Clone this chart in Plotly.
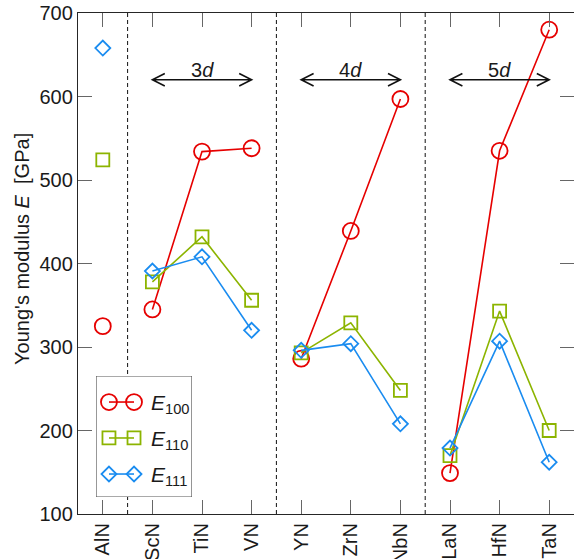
import plotly.graph_objects as go

materials = ["AlN", "ScN", "TiN", "VN", "YN", "ZrN", "NbN", "LaN", "HfN", "TaN"]
E100 = [325, 345, 534, 538, 286, 439, 597, 149, 535, 680]
E110 = [524, 378, 432, 356, 293, 329, 248, 170, 343, 200]
E111 = [658, 391, 408, 320, 296, 304, 208, 179, 307, 162]
groups = [[0], [1, 2, 3], [4, 5, 6], [7, 8, 9]]
series_names = ["100", "110", "111"]
period_labels = ["3", "4", "5"]

FONT = "Liberation Sans, Arial, sans-serif"
TXT = "#1a1a1a"
colors = ["#e60000", "#8cb400", "#1a8cf0"]
symbols = ["circle-open", "square-open", "diamond-open"]
sizes = [16, 13, 11.5]
series = [E100, E110, E111]

fig = go.Figure()

def gapped(vals):
    xs, ys = [], []
    for g in groups:
        for i in g:
            xs.append(i)
            ys.append(vals[i])
        xs.append(None)
        ys.append(None)
    return xs, ys

for vals, c, s, sz in zip(series, colors, symbols, sizes):
    xs, ys = gapped(vals)
    fig.add_trace(go.Scatter(
        x=xs, y=ys, mode="lines+markers", showlegend=False,
        line=dict(color=c, width=1.6),
        marker=dict(symbol=s, size=sz, color=c, line=dict(color=c, width=1.8)),
        xaxis="x", yaxis="y", cliponaxis=False,
    ))

# custom legend in its own small axes
leg_rows = [0.785, 0.488, 0.19]
for name, c, s, sz, ry in zip(series_names, colors, symbols, sizes, leg_rows):
    fig.add_trace(go.Scatter(
        x=[0.135, 0.396], y=[ry, ry], mode="lines+markers", showlegend=False,
        line=dict(color=c, width=1.6),
        marker=dict(symbol=s, size=sz, color=c, line=dict(color=c, width=1.8)),
        xaxis="x2", yaxis="y2", cliponaxis=False, hoverinfo="skip",
    ))
    fig.add_annotation(x=0.55, y=ry, xref="x2", yref="y2", xanchor="left", yanchor="middle",
                       text="<i>E</i><sub>%s</sub>" % name, showarrow=False,
                       font=dict(family=FONT, size=21, color=TXT), yshift=-2)

shapes = []
# separators between groups
for g in groups[1:]:
    xb = g[0] - 0.5
    shapes.append(dict(type="line", xref="x", yref="y", x0=xb, x1=xb, y0=100, y1=700,
                       line=dict(color="#111111", width=1, dash="4px,3px"), layer="below"))
# legend box
shapes.append(dict(type="rect", xref="x2", yref="y2", x0=0, x1=1, y0=0, y1=1,
                   line=dict(color="#555555", width=1.2), fillcolor="white", layer="below"))

# double-headed arrows for the d-periods
ya = 620
dx, dy = 0.25, 7.5
for g, lab in zip(groups[1:], period_labels):
    x0, x1 = g[0], g[-1]
    path = (f"M {x0+dx},{ya+dy} L {x0},{ya} L {x0+dx},{ya-dy} "
            f"M {x0},{ya} L {x1},{ya} "
            f"M {x1-dx},{ya+dy} L {x1},{ya} L {x1-dx},{ya-dy}")
    shapes.append(dict(type="path", xref="x", yref="y", path=path,
                       line=dict(color="#111111", width=1.6)))
    fig.add_annotation(x=(x0 + x1) / 2, y=ya, xref="x", yref="y", yanchor="bottom",
                       text=f"{lab}<i>d</i>", showarrow=False, yshift=-3,
                       font=dict(family=FONT, size=20, color=TXT))

# y-axis title as rotated annotation
fig.add_annotation(x=-0.113, y=0.529, xref="paper", yref="paper", xanchor="center", yanchor="middle",
                   text="Young's modulus <i>E</i>&nbsp; [GPa]", textangle=-90, showarrow=False,
                   font=dict(family=FONT, size=20, color=TXT))

fig.update_layout(
    width=574, height=559,
    margin=dict(l=78, r=0, t=13, b=45, autoexpand=False),
    paper_bgcolor="white", plot_bgcolor="rgba(0,0,0,0)",
    font=dict(family=FONT, size=20, color=TXT),
    shapes=shapes,
    xaxis=dict(range=[-0.5, 9.5], tickvals=list(range(len(materials))), ticktext=materials,
               tickangle=-90, ticks="inside", ticklen=14, tickwidth=1, tickcolor="#666666",
               showline=True, linecolor="#262626", linewidth=1.3, mirror="allticks",
               showgrid=False, zeroline=False, domain=[0, 1], automargin=False,
               ticklabeloverflow="allow",
               tickfont=dict(family=FONT, size=20, color=TXT)),
    yaxis=dict(range=[100, 700], tickvals=[100, 200, 300, 400, 500, 600, 700],
               ticks="inside", ticklen=14, tickwidth=1, tickcolor="#666666",
               showline=True, linecolor="#262626", linewidth=1.3, mirror="allticks",
               showgrid=False, zeroline=False, domain=[0, 1], automargin=False,
               ticklabeloverflow="allow",
               tickfont=dict(family=FONT, size=20, color=TXT)),
    xaxis2=dict(domain=[0.0363, 0.2298], range=[0, 1], visible=False, anchor="y2", fixedrange=True),
    yaxis2=dict(domain=[0.0339, 0.2754], range=[0, 1], visible=False, anchor="x2", fixedrange=True),
)

fig.write_html("out.html", config={"displayModeBar": False},
               post_script="document.body.style.margin='0';")
